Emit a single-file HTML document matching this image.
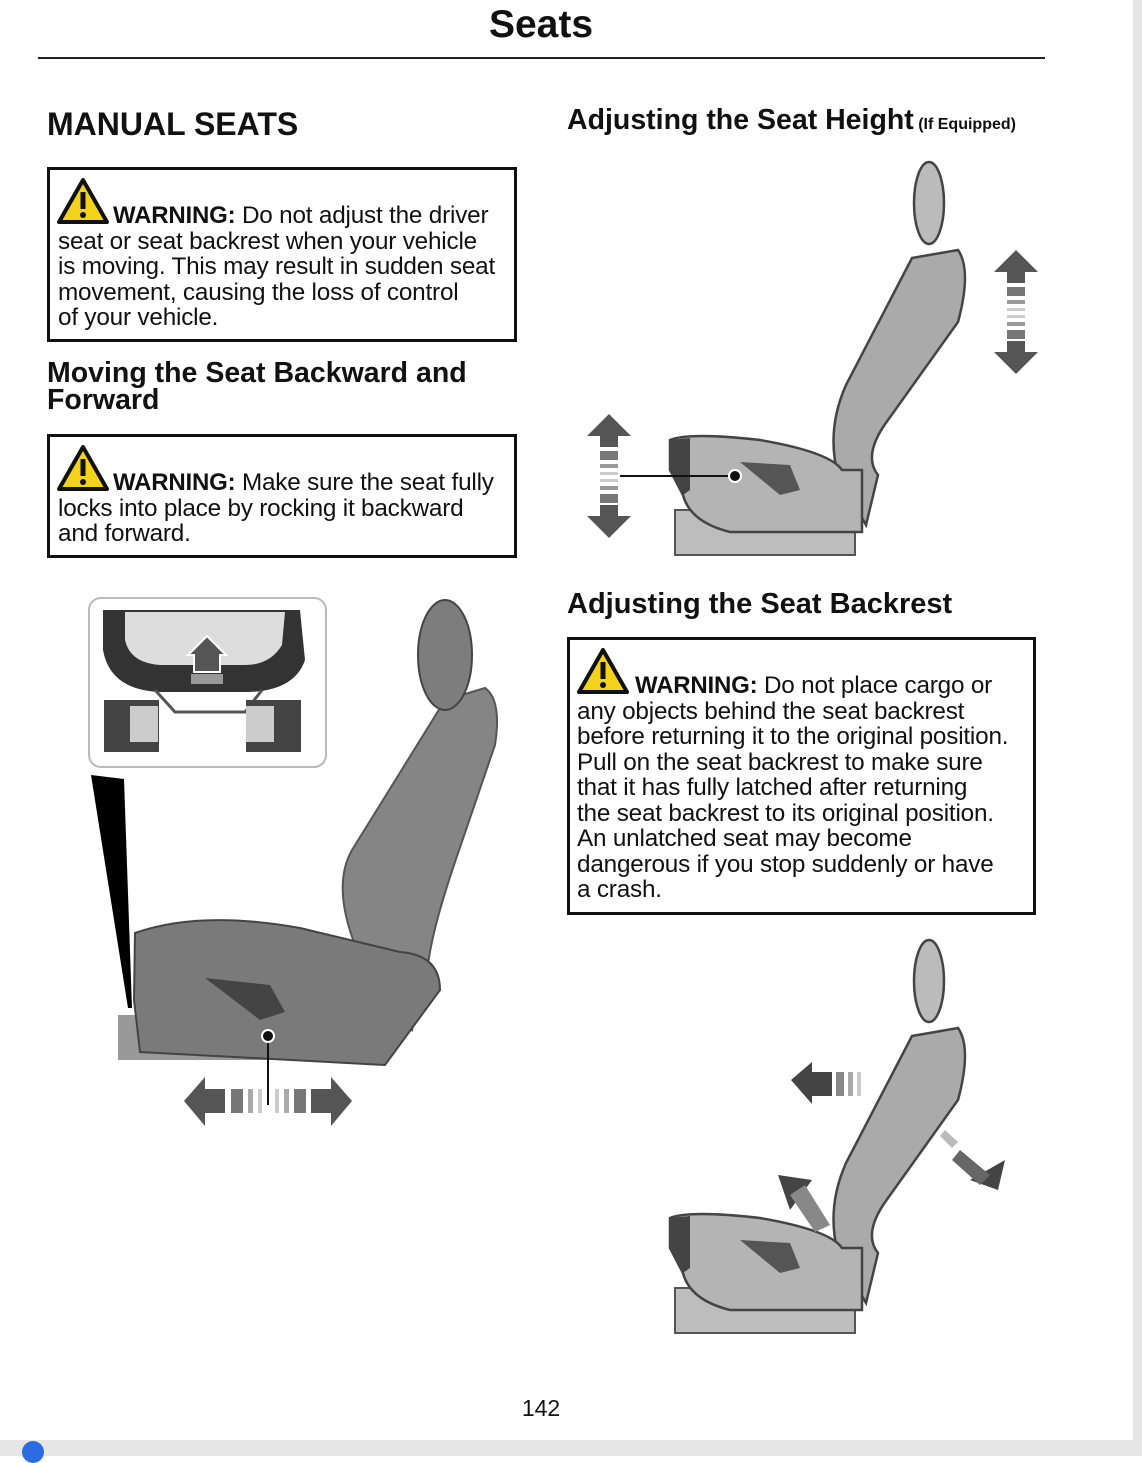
<!DOCTYPE html>
<html><head><meta charset="utf-8"><style>
html,body{margin:0;padding:0;background:#fff;}
body{width:1142px;height:1456px;position:relative;overflow:hidden;font-family:"Liberation Sans",sans-serif;color:#111;}
.a{position:absolute;white-space:nowrap;}
.h{font-weight:bold;}
.box{position:absolute;border:3px solid #111;box-sizing:border-box;}
.t{position:absolute;font-size:24.3px;line-height:25.5px;white-space:nowrap;letter-spacing:-0.2px;}
.t b{font-size:24px;}
</style></head><body>
<div class="a h" style="left:0;width:1082px;text-align:center;top:3px;font-size:39px;">Seats</div>
<div class="a" style="left:38px;top:57px;width:1007px;height:2px;background:#222;"></div>
<div class="a" style="right:0;top:0;width:9px;height:1440px;background:#e4e4e4;"></div>
<div class="a" style="left:0;top:1440px;width:1142px;height:16px;background:#e6e6e6;"></div>
<div class="a" style="left:22px;top:1441px;width:22px;height:22px;border-radius:50%;background:#2b6de0;"></div>

<div class="a h" style="left:47px;top:106px;font-size:32px;">MANUAL SEATS</div>

<div class="box" style="left:47px;top:167px;width:470px;height:175px;"></div>
<div class="t" style="left:58px;top:203px;"><span style="padding-left:55px"></span><b>WARNING:</b> Do not adjust the driver<br>seat or seat backrest when your vehicle<br>is moving. This may result in sudden seat<br>movement, causing the loss of control<br>of your vehicle.</div>

<div class="a h" style="left:47px;top:360px;font-size:28.5px;line-height:27px;">Moving the Seat Backward and<br>Forward</div>

<div class="box" style="left:47px;top:434px;width:470px;height:124px;"></div>
<div class="t" style="left:58px;top:470px;"><span style="padding-left:55px"></span><b>WARNING:</b> Make sure the seat fully<br>locks into place by rocking it backward<br>and forward.</div>

<div class="a h" style="left:567px;top:104px;font-size:28.5px;">Adjusting the Seat Height<span style="font-size:16px;"> (If Equipped)</span></div>
<div class="a h" style="left:567px;top:588px;font-size:29px;">Adjusting the Seat Backrest</div>

<div class="box" style="left:567px;top:637px;width:469px;height:278px;"></div>
<div class="t" style="left:577px;top:673px;"><span style="padding-left:58px"></span><b>WARNING:</b> Do not place cargo or<br>any objects behind the seat backrest<br>before returning it to the original position.<br>Pull on the seat backrest to make sure<br>that it has fully latched after returning<br>the seat backrest to its original position.<br>An unlatched seat may become<br>dangerous if you stop suddenly or have<br>a crash.</div>

<div class="a" style="left:0;width:1082px;text-align:center;top:1395px;font-size:23px;">142</div>

<svg class="a" style="left:0;top:0;" width="1142" height="1456" viewBox="0 0 1142 1456">
<defs>
<g id="tri"><path d="M0 42 L24 0 L48 42 Z" fill="#f2d21a" stroke="#111" stroke-width="4" stroke-linejoin="round"/><rect x="21.5" y="12" width="5" height="17" fill="#111"/><circle cx="24" cy="35" r="3" fill="#111"/></g>
<g id="seat">
<rect x="675" y="510" width="180" height="45" fill="#bdbdbd" stroke="#555" stroke-width="2"/>
<path d="M912 258 L958 250 Q972 270 958 322 L888 420 Q862 455 878 475 L866 525 L838 475 Q826 430 846 385 Z" fill="#aaa" stroke="#444" stroke-width="2.5"/>
<path d="M670 440 Q690 432 760 440 Q830 452 842 470 L862 470 L862 532 L730 532 Q690 522 683 495 L670 470 Z" fill="#b4b4b4" stroke="#444" stroke-width="2.5"/>
<path d="M670 440 L690 438 L690 490 L683 495 L670 470 Z" fill="#444"/>
<path d="M740 462 L790 465 L800 490 L780 495 Z" fill="#555"/>
<ellipse cx="929" cy="203" rx="15" ry="41" fill="#bbb" stroke="#444" stroke-width="2.5"/>
</g>
<g id="vdash"><rect x="-9" y="0" width="18" height="9" fill="#777"/><rect x="-9" y="13" width="18" height="4" fill="#999"/><rect x="-9" y="21" width="18" height="3" fill="#ccc"/><rect x="-9" y="28" width="18" height="3" fill="#ccc"/><rect x="-9" y="35" width="18" height="4" fill="#999"/><rect x="-9" y="43" width="18" height="9" fill="#777"/></g>
</defs>
<use href="#tri" x="59" y="180"/>
<use href="#tri" x="59" y="447"/>
<use href="#tri" x="579" y="650"/>

<use href="#seat"/>
<line x1="620" y1="476" x2="735" y2="476" stroke="#111" stroke-width="2"/>
<circle cx="735" cy="476" r="6" fill="#111" stroke="#fff" stroke-width="2"/>
<path d="M609 414 L631 436 L618 436 L618 447 L600 447 L600 436 L587 436 Z" fill="#555"/>
<use href="#vdash" x="609" y="451"/>
<path d="M609 538 L631 516 L618 516 L618 505 L600 505 L600 516 L587 516 Z" fill="#555"/>
<path d="M1016 250 L1038 272 L1025 272 L1025 283 L1007 283 L1007 272 L994 272 Z" fill="#555"/>
<use href="#vdash" x="1016" y="287"/>
<path d="M1016 374 L1038 352 L1025 352 L1025 341 L1007 341 L1007 352 L994 352 Z" fill="#555"/>

<use href="#seat" transform="translate(0,778)"/>
<path d="M791 1080 L812 1062 L812 1072 L832 1072 L832 1096 L812 1096 L812 1104 Z" fill="#444"/>
<rect x="836" y="1072" width="8" height="24" fill="#888"/><rect x="848" y="1072" width="5" height="24" fill="#aaa"/><rect x="857" y="1072" width="4" height="24" fill="#ccc"/>
<path d="M1005 1160 L998 1190 L970 1180 Z" fill="#444"/><path d="M960 1150 L990 1175 L980 1185 L952 1160 Z" fill="#666"/><path d="M945 1130 L958 1142 L952 1148 L940 1136Z" fill="#bbb"/>
<path d="M778 1175 L812 1180 L790 1210 Z" fill="#444"/><path d="M790 1195 L805 1185 L830 1225 L815 1232 Z" fill="#888"/>

<rect x="89" y="598" width="237" height="169" rx="12" fill="#fff" stroke="#bbb" stroke-width="2"/>
<path d="M103 610 L300 610 L305 660 Q295 690 250 692 L160 692 Q110 690 103 650 Z" fill="#333"/>
<path d="M125 612 L285 612 L282 645 Q270 665 245 665 L160 665 Q130 663 125 640 Z" fill="#ddd"/>
<path d="M155 690 L175 712 L245 712 L262 690" fill="none" stroke="#555" stroke-width="3"/>
<rect x="104" y="700" width="55" height="52" fill="#444"/><rect x="130" y="706" width="28" height="36" fill="#ccc"/>
<rect x="246" y="700" width="55" height="52" fill="#444"/><rect x="246" y="706" width="28" height="36" fill="#ccc"/>
<path d="M207 636 L226 655 L220 655 L220 672 L194 672 L194 655 L188 655 Z" fill="#555" stroke="#fff" stroke-width="2"/>
<rect x="191" y="674" width="32" height="10" fill="#999"/>
<path d="M91 775 L124 779 L132 1008 L128 1008 Z" fill="#000"/>

<rect x="118" y="1015" width="260" height="45" fill="#999"/>
<path d="M445 700 L485 688 Q502 700 495 745 L455 862 Q432 930 428 965 L412 1030 L355 945 Q332 885 352 850 Z" fill="#858585" stroke="#555" stroke-width="2"/>
<path d="M135 933 Q200 910 300 928 L400 952 Q440 955 440 990 L385 1065 L140 1052 L134 1000 Z" fill="#7a7a7a" stroke="#444" stroke-width="2"/>
<path d="M205 978 L270 985 L285 1012 L260 1020 Z" fill="#444"/>
<ellipse cx="445" cy="655" rx="27" ry="55" fill="#7d7d7d" stroke="#444" stroke-width="2"/>
<line x1="268" y1="1036" x2="268" y2="1105" stroke="#111" stroke-width="2"/>
<circle cx="268" cy="1036" r="6" fill="#111" stroke="#fff" stroke-width="2"/>
<path d="M184 1101 L205 1077 L205 1089 L225 1089 L225 1113 L205 1113 L205 1126 Z" fill="#555"/>
<rect x="231" y="1089" width="12" height="24" fill="#777"/><rect x="248" y="1089" width="5" height="24" fill="#aaa"/><rect x="258" y="1089" width="4" height="24" fill="#ccc"/>
<rect x="275" y="1089" width="4" height="24" fill="#ccc"/><rect x="284" y="1089" width="5" height="24" fill="#aaa"/><rect x="294" y="1089" width="12" height="24" fill="#777"/>
<path d="M352 1101 L331 1077 L331 1089 L311 1089 L311 1113 L331 1113 L331 1126 Z" fill="#555"/>
</svg>
</body></html>
